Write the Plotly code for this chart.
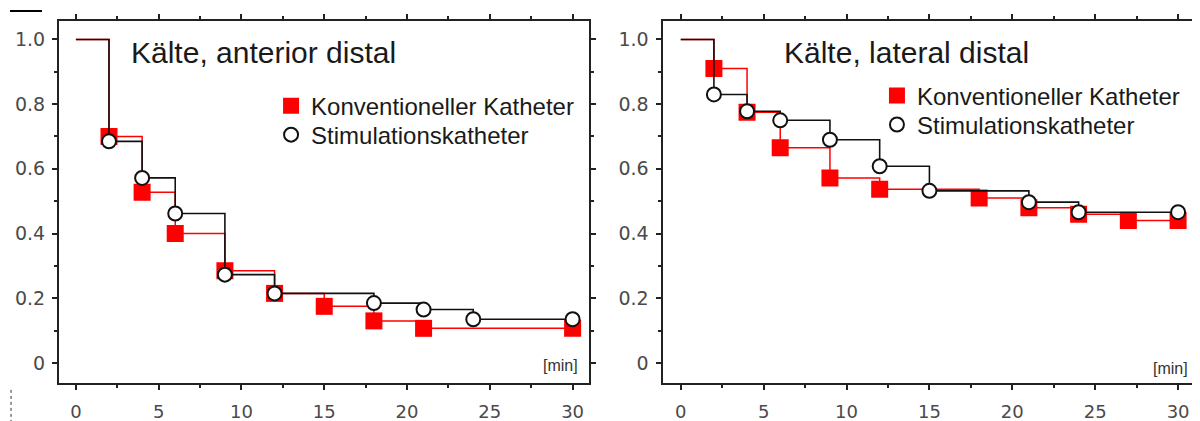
import plotly.graph_objects as go
from plotly.subplots import make_subplots

# ---------------- data ----------------
# Left panel: Kälte, anterior distal
ant_time_conv = [0, 2, 4, 6, 9, 12, 15, 18, 21, 30]
ant_surv_conv = [1.0, 0.70, 0.528, 0.40, 0.285, 0.215, 0.175, 0.13, 0.107, 0.107]
ant_time_stim = [0, 2, 4, 6, 9, 12, 18, 21, 24, 30]
ant_surv_stim = [1.0, 0.685, 0.572, 0.462, 0.273, 0.215, 0.185, 0.165, 0.135, 0.135]

# Right panel: Kälte, lateral distal
lat_time_conv = [0, 2, 4, 6, 9, 12, 18, 21, 24, 27, 30]
lat_surv_conv = [1.0, 0.91, 0.775, 0.665, 0.572, 0.537, 0.51, 0.48, 0.46, 0.44, 0.44]
lat_time_stim = [0, 2, 4, 6, 9, 12, 15, 21, 24, 30]
lat_surv_stim = [1.0, 0.83, 0.778, 0.75, 0.69, 0.608, 0.532, 0.497, 0.466, 0.466]

panel_titles = ["Kälte, anterior distal", "Kälte, lateral distal"]
series_names = ["Konventioneller Katheter", "Stimulationskatheter"]
x_tick_vals = [0, 5, 10, 15, 20, 25, 30]
x_tick_text = ["0", "5", "10", "15", "20", "25", "30"]
y_tick_vals = [0, 0.2, 0.4, 0.6, 0.8, 1.0]
y_tick_text = ["0", "0.2", "0.4", "0.6", "0.8", "1.0"]
x_unit = "[min]"

# ---------------- styling ----------------
RED = "#ff0000"
BLACK = "#111111"
FRAME = "#222222"
TXT = "Liberation Sans, Arial, sans-serif"
TICKFONT_Y = dict(family="DejaVu Sans, sans-serif", size=19, color="#4a4a4a")
TICKFONT_X = dict(family="DejaVu Sans, sans-serif", size=18, color="#4a4a4a")

fig = make_subplots(rows=1, cols=2, horizontal_spacing=0.0644)


def add_panel(col, t_conv, s_conv, t_stim, s_stim, leg_conv, leg_stim):
    # red step line
    fig.add_trace(go.Scatter(x=t_conv, y=s_conv, mode="lines", line_shape="hv",
                             line=dict(color=RED, width=1.5), showlegend=False,
                             hoverinfo="skip"), row=1, col=col)
    # red squares (events)
    fig.add_trace(go.Scatter(x=t_conv[1:], y=s_conv[1:], mode="markers",
                             marker=dict(symbol="square", size=17, color=RED,
                                         line=dict(width=0)),
                             name=series_names[0], legend=leg_conv,
                             showlegend=True), row=1, col=col)
    # black step line
    fig.add_trace(go.Scatter(x=t_stim, y=s_stim, mode="lines", line_shape="hv",
                             line=dict(color=BLACK, width=1.6), showlegend=False,
                             hoverinfo="skip"), row=1, col=col)
    # white circles
    fig.add_trace(go.Scatter(x=t_stim[1:], y=s_stim[1:], mode="markers",
                             marker=dict(symbol="circle", size=14, color="white",
                                         line=dict(width=2, color=BLACK)),
                             name=series_names[1], legend=leg_stim,
                             showlegend=True), row=1, col=col)


add_panel(1, ant_time_conv, ant_surv_conv, ant_time_stim, ant_surv_stim, "legend", "legend2")
add_panel(2, lat_time_conv, lat_surv_conv, lat_time_stim, lat_surv_stim, "legend3", "legend4")

common_x = dict(tickvals=x_tick_vals, ticktext=x_tick_text, ticks="outside", ticklen=5,
                tickwidth=1.5, tickcolor=FRAME, showline=True, linecolor=FRAME,
                linewidth=2, mirror="allticks", showgrid=False, zeroline=False,
                tickfont=TICKFONT_X, ticklabelstandoff=6, automargin=False,
                minor=dict(dtick=2.5, tick0=0, ticks="outside", ticklen=3,
                           tickcolor=FRAME, showgrid=False))
common_y = dict(tickvals=y_tick_vals, ticktext=y_tick_text, ticks="outside", ticklen=5,
                tickwidth=1.5, tickcolor=FRAME, showline=True, linecolor=FRAME,
                linewidth=2, mirror="allticks", showgrid=False, zeroline=False,
                tickfont=TICKFONT_Y, ticklabelstandoff=3, range=[-0.062, 1.057],
                automargin=False,
                minor=dict(dtick=0.1, tick0=0, ticks="outside", ticklen=3,
                           tickcolor=FRAME, showgrid=False))

fig.update_xaxes(**common_x)
fig.update_yaxes(**common_y)
fig.update_xaxes(range=[-1.02, 31.02], row=1, col=1)
fig.update_xaxes(range=[-1.1, 30.9], row=1, col=2)

legend_common = dict(font=dict(family=TXT, size=24, color="#1a1a1a"),
                     bgcolor="rgba(0,0,0,0)", borderwidth=0, itemwidth=30,
                     xanchor="left", yanchor="middle", tracegroupgap=0)

# the page body adds an 8 px margin, so the figure is drawn 8 px smaller
fig.update_layout(
    width=1192, height=413,
    margin=dict(l=51, r=7, t=13, b=38, autoexpand=False),
    paper_bgcolor="white", plot_bgcolor="white",
    legend=dict(x=0.187, y=0.765, **legend_common),
    legend2=dict(x=0.187, y=0.685, **legend_common),
    legend3=dict(x=0.7213, y=0.793, **legend_common),
    legend4=dict(x=0.7213, y=0.713, **legend_common),
)

# panel titles
fig.add_annotation(text=panel_titles[0], xref="paper", yref="paper", x=0.0618, y=0.912,
                   xanchor="left", yanchor="middle", showarrow=False,
                   font=dict(family=TXT, size=30, color="#1a1a1a"))
fig.add_annotation(text=panel_titles[1], xref="paper", yref="paper", x=0.6375, y=0.914,
                   xanchor="left", yanchor="middle", showarrow=False,
                   font=dict(family=TXT, size=30, color="#1a1a1a"))
# unit labels
fig.add_annotation(text=x_unit, xref="paper", yref="paper", x=0.4594, y=0.047,
                   xanchor="right", yanchor="middle", showarrow=False,
                   font=dict(family=TXT, size=16, color="#333333"))
fig.add_annotation(text=x_unit, xref="paper", yref="paper", x=0.9974, y=0.041,
                   xanchor="right", yanchor="middle", showarrow=False,
                   font=dict(family=TXT, size=16, color="#333333"))

# scan artefacts in the corners of the reference picture
fig.add_shape(type="line", xref="paper", yref="paper", x0=-0.0432, x1=-0.0150,
              y0=1.0276, y1=1.0276, line=dict(color="black", width=2))
fig.add_shape(type="line", xref="paper", yref="paper", x0=-0.0423, x1=-0.0423,
              y0=-0.019, y1=-0.105, line=dict(color="#333333", width=1, dash="dot"))

fig.write_html("out.html")
